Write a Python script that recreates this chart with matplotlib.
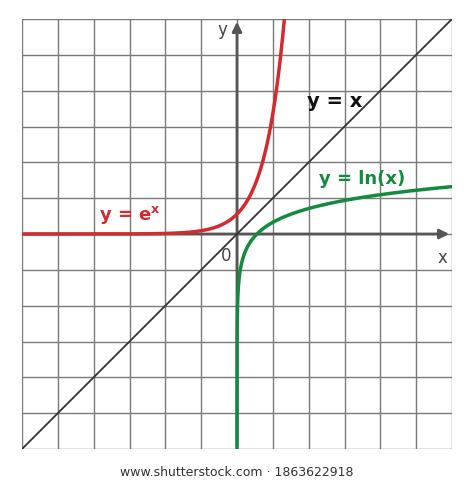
import numpy as np
import matplotlib
matplotlib.use("Agg")
import matplotlib.pyplot as plt

L = 10.8  # axis half-range in data units
cell = 1.8
exp_color = "#d42a2f"
ln_color = "#138a3e"

fig = plt.figure(figsize=(4.74, 4.89), dpi=100)
ax = fig.add_axes([22/474, 39/489, 430/474, 430/489])
ax.set_xlim(-L, L); ax.set_ylim(-L, L)
ticks = np.arange(-6, 7) * cell
for t in ticks:
    ax.axvline(t, color="#7a7a7a", lw=1.0, zorder=1)
    ax.axhline(t, color="#7a7a7a", lw=1.0, zorder=1)
for s in ax.spines.values():
    s.set_visible(False)
ax.set_xticks([]); ax.set_yticks([])

ax.annotate("", xy=(L, 0), xytext=(-L, 0), arrowprops=dict(arrowstyle="-|>", color="#555555", lw=2, mutation_scale=14), zorder=3)
ax.annotate("", xy=(0, L), xytext=(0, -L), arrowprops=dict(arrowstyle="-|>", color="#555555", lw=2, mutation_scale=14), zorder=3)

x = np.linspace(-L, L, 800)
ax.plot(x, x, color="#333333", lw=1.3, zorder=4)
xe = np.linspace(-L, np.log(L), 800)
ax.plot(xe, np.exp(xe), color=exp_color, lw=2.5, zorder=5)
xl = np.linspace(np.exp(-L), L, 4000)
ax.plot(xl, np.log(xl), color=ln_color, lw=2.5, zorder=5)

ax.text(-0.5, 10.3, "y", fontsize=12, color="#444444", ha="right", va="center")
ax.text(10.3, -0.7, "x", fontsize=12, color="#444444", ha="center", va="top")
ax.text(-0.3, -0.6, "0", fontsize=12, color="#444444", ha="right", va="top")
ax.text(4.9, 6.7, "y = x", fontsize=14, fontweight="bold", color="#111111", ha="center", va="center")
ax.text(6.3, 2.8, "y = ln(x)", fontsize=13, fontweight="bold", color=ln_color, ha="center", va="center")
ax.text(-5.4, 1.0, r"y = e$^{\mathbf{x}}$", fontsize=13, fontweight="bold", color=exp_color, ha="center", va="center")

fig.text(0.5, 16/489, "www.shutterstock.com · 1863622918", fontsize=9, color="#333333", ha="center", va="center")
fig.savefig("out.png", dpi=100)
